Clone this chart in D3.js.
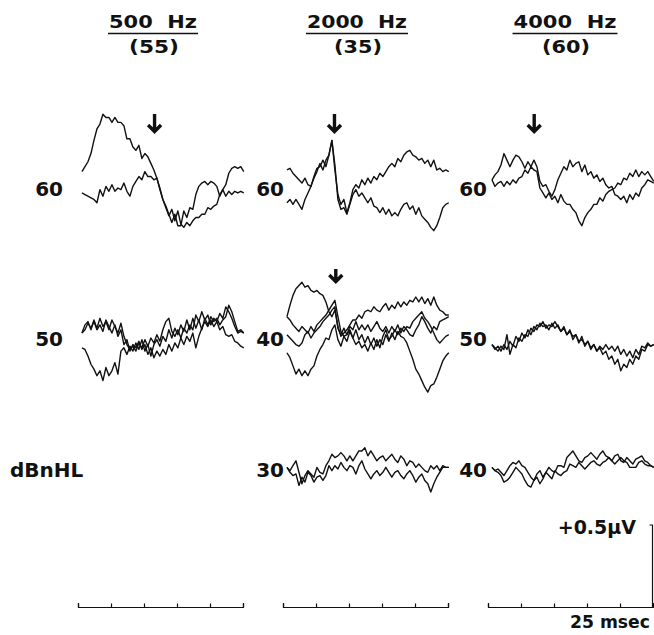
<!DOCTYPE html>
<html>
<head>
<meta charset="utf-8">
<script src="https://cdn.jsdelivr.net/npm/d3@7"></script>
<style>
  body { margin: 0; background: #fff; }
  text { font-family: "DejaVu Sans", sans-serif; font-weight: bold; fill: #111; white-space: pre; }
</style>
</head>
<body>
<svg id="chart" width="654" height="635"></svg>
<script>
// column headings: stimulus frequency and (threshold, dBnHL)
const freqLabels = ["500  Hz", "2000  Hz", "4000  Hz"];
const thresholdLabels = ["(55)", "(35)", "(60)"];

// stimulus level shown left of each row of traces, per column
const levelLabels = [
  ["60", "50", null],
  ["60", "40", "30"],
  ["60", "50", "40"],
];

// time axis under each column (msec), calibration in microvolts
const timeTicks = [0, 25, 50, 75, 100, 125];
const calibration = 0.5;

// sampling of the averaged waveforms: 55 samples from 3 msec, 2.27 msec apart
const sampleStart = 3;
const sampleStep = 2.27;

// waveform amplitudes (µV, positive up)
// 500 Hz, 60 dBnHL
const r1c1a = [.10,.13,.16,.21,.29,.36,.39,.45,.43,.43, .40,.43,.40,.40,.38,.30,.30,.25,.23,.26, .18,.21,.19,.15,.11,.06,.00,-.07,-.11,-.16, -.21,-.16,-.23,-.23,-.14,-.18,-.12,-.13,-.04,.01, .03,.04,.02,.04,.03,.01,-.05,-.01,.02,.09, .12,.13,.12,.13,.10];
const r1c1b = [-.03,-.04,-.05,-.06,-.07,-.09,-.01,-.05,.01,-.02, .02,-.02,.00,-.01,.03,-.02,-.05,.01,.04,.07, .05,.10,.07,.07,.05,.06,-.01,-.07,-.12,-.17, -.13,-.20,-.14,-.22,-.24,-.21,-.23,-.20,-.18,-.18, -.16,-.16,-.12,-.13,-.11,-.10,-.04,-.01,-.05,-.02, -.04,-.02,-.03,-.02,-.03];
// 2000 Hz, 60 dBnHL
const r1c2a = [.11,.12,.09,.07,.05,.03,.06,.02,.01,.07, .12,.13,.17,.13,.20,.29,.11,-.04,-.10,-.07, -.15,-.09,-.01,.02,.00,.05,.02,.06,.03,.07, .05,.09,.07,.10,.13,.15,.13,.18,.16,.20, .22,.23,.20,.19,.17,.18,.15,.17,.13,.17, .11,.12,.10,.11,.10];
const r1c2b = [-.09,-.07,-.10,-.07,-.10,-.13,-.07,-.03,.01,.06, .10,.15,.11,.17,.20,.29,.14,-.07,-.13,-.12, -.16,-.10,-.04,-.01,-.05,-.03,-.06,-.09,-.06,-.11, -.12,-.15,-.12,-.16,-.13,-.17,-.15,-.17,-.13,-.10, -.09,-.13,-.11,-.16,-.12,-.17,-.19,-.21,-.24,-.26, -.23,-.18,-.12,-.10,-.09];
// 4000 Hz, 60 dBnHL
const r1c3a = [.05,.08,.10,.14,.21,.17,.13,.17,.20,.19, .16,.12,.16,.13,.17,.13,.04,.01,.02,-.02, -.05,-.01,.05,.09,.13,.11,.17,.13,.15,.16, .10,.14,.08,.10,.06,.08,.04,.06,.02,.00, .01,-.04,-.05,-.07,-.05,-.09,-.04,-.07,-.03,-.05, .00,.02,.05,.04,.03];
const r1c3b = [.05,.01,.03,.04,.01,.04,.02,.05,.03,.06, .07,.11,.09,.13,.11,.10,.00,-.03,-.06,-.03, -.07,-.05,-.09,-.04,-.08,-.10,-.10,-.13,-.15,-.20, -.23,-.18,-.15,-.13,-.10,-.10,-.06,-.08,-.04,-.02, -.01,.00,.03,.02,.06,.05,.09,.07,.11,.07, .10,.08,.10,.07,.04];
// 500 Hz, 50 dBnHL
const r2c1a = [.03,.08,.10,.05,.11,.06,.12,.07,.10,.05, .11,.07,.03,.09,.01,-.04,-.07,-.05,-.08,-.03, -.06,-.01,-.05,.00,-.03,.02,-.02,.05,.10,.12, .04,.01,.05,.00,.06,.03,.08,.05,.14,.10, .16,.11,.14,.08,.12,.10,.15,.12,.19,.16, .12,.07,.03,.04,.03];
const r2c1b = [.03,.05,.09,.06,.10,.05,.08,.04,.11,.07, .03,.08,.01,.05,-.04,-.01,-.08,-.04,-.06,-.02, -.07,-.04,-.10,-.06,-.12,-.08,-.11,-.07,-.10,-.04, -.08,-.03,-.06,.00,-.04,.01,-.02,.03,-.06,.01, .06,.10,.07,.11,.07,.10,.05,.07,.02,.01, .02,-.02,-.03,-.05,-.06];
const r2c1c = [-.06,-.07,-.11,-.16,-.19,-.23,-.20,-.26,-.18,-.23, -.20,-.15,-.22,-.08,-.06,-.10,-.05,-.08,-.03,-.07, -.01,-.08,-.04,-.11,-.04,-.01,-.05,.01,-.02,.05, .00,.06,.02,.08,.04,.11,.05,.12,.06,.11, .05,.12,.08,.13,.10,.12,.08,.11,.13,.20, .16,.10,.04,.05,.03];
// 2000 Hz, 40 dBnHL
const r2c2a = [.13,.20,.26,.30,.32,.34,.31,.32,.29,.28, .29,.27,.26,.22,.16,.13,.17,.07,.01,.03, .05,.08,.11,.11,.14,.12,.16,.17,.16,.19, .17,.16,.19,.21,.17,.20,.18,.22,.19,.22, .20,.23,.22,.25,.22,.25,.21,.24,.20,.25, .20,.17,.16,.14,.14];
const r2c2b = [-.09,-.12,-.17,-.22,-.19,-.23,-.20,-.23,-.19,-.17, -.11,-.07,-.04,.00,-.01,.05,.08,-.01,-.05,.01, -.02,.04,.00,.05,-.01,.02,-.03,.01,-.04,.00, -.05,-.01,-.04,.02,-.02,.03,-.01,.04,.01,.00, -.03,-.08,-.13,-.19,-.22,-.26,-.30,-.33,-.29,-.28, -.24,-.19,-.14,-.11,-.09];
const r2c2c = [.02,.00,-.02,-.04,-.05,-.03,.02,.04,.00,.03, .05,.07,.10,.12,.14,.17,.19,.06,.02,.06, .02,.05,.00,-.04,-.02,-.06,-.04,-.08,-.03,-.07, -.01,-.06,.01,.05,-.01,.01,.05,.02,.06,.04, .07,.06,.10,.12,.14,.16,.12,.10,.07,.03, -.01,-.03,-.01,.01,.02];
const r2c2d = [.13,.11,.08,.06,.04,.07,.05,.03,.07,.04, .08,.10,.12,.14,.17,.20,.23,.13,.04,.01, .02,.07,.05,.10,.05,.08,.05,.08,.04,.07, .10,.06,.04,.07,.03,.07,.04,.08,.03,.07, .05,.02,.01,.05,.08,.13,.10,.06,.03,.07, .05,.10,.11,.12,.13];
// 4000 Hz, 50 dBnHL
const r2c3a = [-.04,-.06,-.08,-.05,-.07,.02,-.10,-.04,-.06,.00, -.02,.02,.01,.06,.04,.08,.07,.10,.06,.08, .07,.10,.07,.04,.06,.02,.04,.01,.02,-.02, -.01,-.04,-.02,-.06,-.04,-.08,-.06,-.10,-.08,-.13, -.11,-.16,-.13,-.20,-.16,-.18,-.13,-.16,-.11,-.13, -.07,-.08,-.04,-.05,-.04];
const r2c3b = [-.04,-.07,-.05,-.08,-.04,-.07,-.02,-.05,.01,-.02, .03,.00,.05,.02,.07,.05,.09,.07,.08,.05, .09,.06,.08,.04,.07,.02,.05,-.01,.02,-.03, .01,-.05,-.02,-.07,-.04,-.08,-.05,-.07,-.04,-.07, -.05,-.08,-.05,-.10,-.07,-.11,-.08,-.12,-.07,-.10, -.05,-.06,-.03,-.05,-.04];
// 2000 Hz, 30 dBnHL
const r3c2a = [.01,-.01,.02,.05,-.02,-.09,-.04,-.01,-.03,-.05, .01,-.02,-.03,.02,.05,.09,.07,.08,.10,.08, .05,.08,.05,.08,.11,.11,.13,.08,.11,.08, .05,.07,.08,.05,.07,.09,.06,.04,.08,.06, .02,.05,.04,.01,.03,.01,-.01,-.02,.02,.00, .02,-.01,.02,.01,.01];
const r3c2b = [.01,-.02,-.04,-.03,-.10,-.05,-.08,-.02,-.04,-.08, -.05,-.04,-.07,-.04,.02,-.01,.02,.00,.04,.01, -.01,.02,.01,-.03,.02,.05,.00,-.03,-.06,-.03, -.01,-.04,-.02,.01,-.02,-.05,-.02,-.01,-.04,-.06, -.03,-.01,-.04,-.08,-.05,-.03,-.07,-.09,-.14,-.09, -.05,-.02,.01,.01,.01];
// 4000 Hz, 40 dBnHL
const r3c3a = [.01,-.01,.00,-.02,-.04,-.01,.02,.04,.03,.05, .02,.01,-.02,-.05,-.07,-.03,-.01,-.05,-.02,.01, -.01,-.02,.02,.02,.01,.07,.09,.11,.08,.05, .04,.07,.08,.10,.08,.06,.09,.11,.08,.07, .05,.08,.09,.05,.04,.07,.05,.03,.06,.07, .08,.05,.04,.02,.01];
const r3c3b = [.01,-.01,-.02,-.04,-.08,-.07,-.05,-.02,.01,-.01, -.03,-.07,-.10,-.11,-.07,-.05,-.09,-.06,-.02,-.04, -.06,-.01,-.03,-.04,-.02,-.01,.03,.02,.01,.04, .02,.00,.02,.04,.05,.03,.02,.04,.05,.07, .05,.03,.05,.07,.05,.04,.01,.01,.01,.04, .05,.03,.02,.02,.01];

const waveforms = [
  { col: 0, row: 0, values: r1c1a }, { col: 0, row: 0, values: r1c1b },
  { col: 1, row: 0, values: r1c2a }, { col: 1, row: 0, values: r1c2b },
  { col: 2, row: 0, values: r1c3a }, { col: 2, row: 0, values: r1c3b },
  { col: 0, row: 1, values: r2c1a }, { col: 0, row: 1, values: r2c1b }, { col: 0, row: 1, values: r2c1c },
  { col: 1, row: 1, values: r2c2a }, { col: 1, row: 1, values: r2c2b }, { col: 1, row: 1, values: r2c2c }, { col: 1, row: 1, values: r2c2d },
  { col: 2, row: 1, values: r2c3a }, { col: 2, row: 1, values: r2c3b },
  { col: 1, row: 2, values: r3c2a }, { col: 1, row: 2, values: r3c2b },
  { col: 2, row: 2, values: r3c3a }, { col: 2, row: 2, values: r3c3b },
];

// response markers (latency in msec)
const arrowMarks = [
  { col: 0, row: 0, t: 58 },
  { col: 1, row: 0, t: 39 },
  { col: 2, row: 0, t: 35 },
  { col: 1, row: 1, t: 40 },
];

// layout
const colLeft = [78, 283, 488];
const colWidth = 165;
const rowBase = [188, 338, 469];
const labelRight = [63, 284, 487];
const headCenter = [153, 357, 565];
const headWidth = [88, 100, 103];
const thrWidth = [50, 48, 48];
const barY = 607;

const svg = d3.select("#chart");
svg.append("rect").attr("width", 654).attr("height", 635).attr("fill", "#fff");

const xScales = colLeft.map((x0) =>
  d3.scaleLinear().domain([0, 125]).range([x0, x0 + colWidth]),
);
const amp = d3.scaleLinear().domain([0, calibration]).range([0, -82]);

// headings
freqLabels.forEach((label, c) => {
  svg.append("text")
    .attr("x", headCenter[c]).attr("y", 28)
    .attr("text-anchor", "middle")
    .attr("font-size", 18)
    .attr("textLength", headWidth[c])
    .attr("lengthAdjust", "spacingAndGlyphs")
    .text(label);
  svg.append("line")
    .attr("x1", headCenter[c] - headWidth[c] / 2 - 1)
    .attr("x2", headCenter[c] + headWidth[c] / 2 + 1)
    .attr("y1", 33.5).attr("y2", 33.5)
    .attr("stroke", "#111").attr("stroke-width", 1.5);
  svg.append("text")
    .attr("x", headCenter[c] + 1).attr("y", 53)
    .attr("text-anchor", "middle")
    .attr("font-size", 17)
    .attr("textLength", thrWidth[c])
    .attr("lengthAdjust", "spacingAndGlyphs")
    .text(thresholdLabels[c]);
});

// level labels
levelLabels.forEach((levels, c) => {
  levels.forEach((lvl, r) => {
    if (!lvl) return;
    svg.append("text")
      .attr("x", labelRight[c]).attr("y", rowBase[r] + 7.5)
      .attr("text-anchor", "end")
      .attr("font-size", 20)
      .text(lvl);
  });
});
svg.append("text")
  .attr("x", 10).attr("y", rowBase[2] + 7.5)
  .attr("font-size", 20)
  .text("dBnHL");

// waveforms
waveforms.forEach((w) => {
  const x = xScales[w.col];
  const line = d3.line()
    .x((d, i) => x(sampleStart + i * sampleStep))
    .y((d) => rowBase[w.row] + amp(d));
  svg.append("path")
    .attr("d", line(w.values))
    .attr("fill", "none")
    .attr("stroke", "#111")
    .attr("stroke-width", 1.4)
    .attr("stroke-linejoin", "round");
});

// arrows
arrowMarks.forEach((a) => {
  const len = a.row === 0 ? 19 : 14;
  const tipY = rowBase[a.row] - 55;
  const g = svg.append("g")
    .attr("transform", `translate(${xScales[a.col](a.t)},${tipY})`);
  g.append("path")
    .attr("d", `M0,${-len}V-2M-6.5,-8L0,-1.5L6.5,-8`)
    .attr("fill", "none")
    .attr("stroke", "#111")
    .attr("stroke-width", 3.4);
});

// time scale bars
xScales.forEach((x) => {
  const g = svg.append("g")
    .attr("transform", `translate(0,${barY})`)
    .call(
      d3.axisTop(x)
        .tickValues(timeTicks)
        .tickSize(3.5)
        .tickSizeOuter(4)
        .tickFormat(""),
    );
  g.selectAll("path, line").attr("stroke", "#111").attr("stroke-width", 1.2);
});

// amplitude calibration bar
const calX = xScales[2](125) - 0.5;
const calTop = barY + amp(calibration);
svg.append("path")
  .attr("d", `M${calX - 3},${calTop}H${calX}V${barY}`)
  .attr("fill", "none")
  .attr("stroke", "#111")
  .attr("stroke-width", 1.2);
svg.append("text")
  .attr("x", 636).attr("y", 534)
  .attr("text-anchor", "end")
  .attr("font-size", 19)
  .text("+0.5µV");
svg.append("text")
  .attr("x", 650).attr("y", 628)
  .attr("text-anchor", "end")
  .attr("font-size", 18)
  .attr("textLength", 80)
  .attr("lengthAdjust", "spacingAndGlyphs")
  .text("25 msec");
</script>
</body>
</html>
